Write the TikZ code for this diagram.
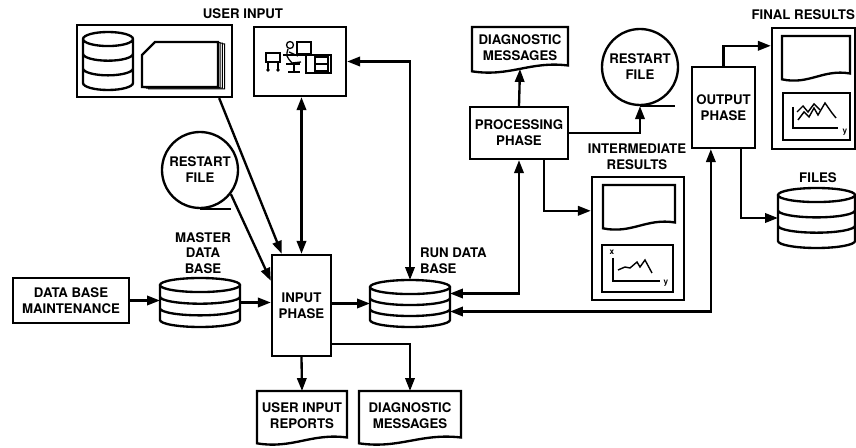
\documentclass[tikz,border=0pt]{standalone}
\usepackage{fontspec}
\setmainfont{TeX Gyre Heros}
\usetikzlibrary{arrows.meta,calc}

\begin{document}
\begin{tikzpicture}[x=0.03cm, y=0.03cm, line width=2pt,
  every node/.style={font=\fontsize{11.3}{13.5}\selectfont\bfseries, align=center},
  box/.style={draw, inner sep=2pt},
  plain/.style={inner sep=0pt},
  hollow/.style={inner sep=0pt, outer sep=0pt},
  file/.style={circle, draw, inner sep=0pt, minimum size=2.28cm},
  tiny/.style={inner sep=0pt, font=\fontsize{7}{8}\selectfont\bfseries},
  arr/.style={-{Triangle[length=11pt,width=8pt]}},
  darr/.style={{Triangle[length=11pt,width=8pt]}-{Triangle[length=11pt,width=8pt]}}]
\useasboundingbox (0,0) rectangle (856,448);

\node[box, minimum width=3.48cm, minimum height=1.35cm] (dbm) at (71,147.5) {DATA BASE\\MAINTENANCE};
\node[hollow, minimum width=2.4cm, minimum height=1.47cm] (mdb) at (200,145.5) {};
\node[plain] (mdbl) at (203,195) {MASTER\\DATA\\BASE};
\node[box, minimum width=1.77cm, minimum height=3.03cm] (inph) at (301.5,142.5) {INPUT\\PHASE};
\node[hollow, minimum width=2.4cm, minimum height=1.41cm] (rdb) at (410,144.5) {};
\node[plain, anchor=west, align=left] (rdbl) at (419,187.5) {RUN DATA\\BASE};
\node[hollow, minimum width=2.7cm, minimum height=1.5cm] (uir) at (302,32) {USER INPUT\\REPORTS};
\node[hollow, minimum width=3.06cm, minimum height=1.5cm] (dmb) at (410,32) {DIAGNOSTIC\\MESSAGES};

\node[box, minimum width=4.65cm, minimum height=2.16cm] (uinp) at (154.5,387) {};
\node[hollow, minimum width=1.5cm, minimum height=1.74cm] (uidb) at (108,387) {};
\node[box, minimum width=2.76cm, minimum height=2.07cm] (term) at (300,386.5) {};
\node[plain] (uinpl) at (243,434) {USER INPUT};
\node[file] (rf1) at (200,278) {RESTART\\FILE};

\node[box, minimum width=2.94cm, minimum height=1.56cm] (proc) at (519,315) {PROCESSING\\PHASE};
\node[hollow, minimum width=2.88cm, minimum height=1.26cm] (dmt) at (520,400) {DIAGNOSTIC\\MESSAGES};
\node[file] (rf2) at (640,381) {RESTART\\FILE};
\node[box, minimum width=2.76cm, minimum height=3.69cm] (inter) at (638,209.5) {};
\node[plain] (interl) at (637,291) {INTERMEDIATE\\RESULTS};
\node[hollow, minimum width=2.16cm, minimum height=1.23cm] (irep) at (639,242.5) {};
\node[box, line width=1.5pt, minimum width=2.13cm, minimum height=1.41cm] (ichart) at (637.5,179.5) {};

\node[box, minimum width=1.89cm, minimum height=2.43cm] (outph) at (723.5,340.5) {OUTPUT\\PHASE};
\node[box, minimum width=2.49cm, minimum height=3.63cm] (final) at (813.5,359.5) {};
\node[plain, anchor=east] (finall) at (856,433) {FINAL RESULTS};
\node[hollow, minimum width=2.04cm, minimum height=1.23cm] (frep) at (816,391.5) {};
\node[box, line width=1.5pt, minimum width=2.01cm, minimum height=1.41cm] (fchart) at (816.5,331.5) {};
\node[hollow, minimum width=2.31cm, minimum height=1.8cm] (files) at (816.5,230) {};
\node[plain] (filesl) at (818,270) {FILES};

% drums
\foreach \c in {mdb,rdb,files,uidb}
  \draw let \p1=(\c.north west), \p2=(\c.south east) in
    ([yshift=-6pt]\c.north) ellipse [x radius={(\x2-\x1)/2}, y radius=6pt]
    ([yshift=-6pt]\c.north west) -- ([yshift=6pt]\c.south west)
      arc [start angle=180, end angle=360, x radius={(\x2-\x1)/2}, y radius=6pt]
      -- ([yshift=-6pt]\c.north east)
    ({\x1},{\y1-6pt-(\y1-\y2-12pt)/3})
      arc [start angle=180, end angle=360, x radius={(\x2-\x1)/2}, y radius=6pt]
    ({\x1},{\y1-6pt-2*(\y1-\y2-12pt)/3})
      arc [start angle=180, end angle=360, x radius={(\x2-\x1)/2}, y radius=6pt];

% documents
\foreach \d in {uir,dmb,dmt,irep,frep}
  \draw (\d.north west) -- ([yshift=-2pt]\d.south west)
    .. controls ([yshift=-7pt]$(\d.south west)!.4!(\d.south east)$)
            and ([yshift=7pt]$(\d.south west)!.6!(\d.south east)$) .. ([yshift=3pt]\d.south east)
    -- (\d.north east) -- cycle;

% card deck
\foreach \i in {3,2,1}
  \draw[fill=white, line width=0.9pt, shift={(2.2*\i,-0.6*\i)}] (142,361) -- (142,393) -- (155,406) -- (218,406) -- (218,361) -- cycle;
\draw[fill=white] (142,361) -- (142,393) -- (155,406) -- (218,406) -- (218,361) -- cycle;

% terminal
\begin{scope}[line width=1.1pt]
\draw (266,395) rectangle (280,386) (268,386) -- (268,379) (278,386) -- (278,379);
\fill (268,378) circle (1.6pt) (278,378) circle (1.6pt);
\draw (290,403) circle (3.5);
\draw (288,399) .. controls (286,392) .. (292,385) -- (301,386) (289,396) -- (298,392);
\draw (286,384) -- (300,384) (294,384) -- (294,377) (288,376) -- (300,376);
\draw[fill=white] (297,394) rectangle (311,406);
\draw (283,393) -- (331,393) (306,393) rectangle (331,375);
\draw (315,391) rectangle (328,377) (315,384) -- (328,384);
\end{scope}

% plots
\begin{scope}[line width=1.2pt]
\node[tiny] (ix) at (612,196) {x};
\node[tiny] (iy) at (666,165) {y};
\draw (613,190) -- (613,167) -- (660,167);
\draw (618,178) -- (625,181) -- (630,180) -- (637,186) -- (640,181) -- (645,188) -- (652,175);
\node[tiny] (fy) at (845,316) {y};
\draw (793,341) -- (793,320) -- (838,320);
\draw (798,328) -- (804,336) -- (809,331) -- (814,340) -- (818,333) -- (825,345) -- (832,335) -- (836,330);
\draw (797,336) -- (803,342) -- (808,336) -- (814,344) -- (820,338);
\end{scope}

% connections
\draw[arr] (dbm.east) -- (mdb.west |- dbm.east);
\draw[arr] (mdb.east) -- (inph.west |- mdb.east);
\draw[arr] (inph.east |- rdb.west) -- (rdb.west);
\draw[darr] (inph.north) -- (inph.north |- term.south);
\draw[darr] (term.east) -| (rdb.north);
\draw[arr] ($(uinp.south east)+(-14,0)$) -- ($(inph.north west)+(11,0)$);
\draw[arr] (rf1.-38) -- ($(inph.north west)+(0,-27)$);
\draw (rf1.south) -- ++(31,0);
\draw[arr] (inph.south) -- (uir.north);
\draw[arr] ($(inph.south east)+(0,13)$) -| (dmb.north);
\draw[arr] (proc.north) -- (dmt.south);
\draw[arr] (proc.east) -| (rf2.south);
\draw (rf2.south) -- ++(35,0);
\draw[arr] ($(proc.south west)+(75,0)$) |- ($(inter.north west)+(0,-35)$);
\draw[darr] ($(rdb.east)+(0,10)$) -| (proc.south);
\draw[darr] ($(rdb.east)+(0,-8)$) -| ($(outph.south west)+(20,0)$);
\draw[arr] (outph.north) |- ($(final.north west)+(0,-19)$);
\draw[arr] ($(outph.south east)+(-15,0)$) |- (files.west);
\end{tikzpicture}
\end{document}
